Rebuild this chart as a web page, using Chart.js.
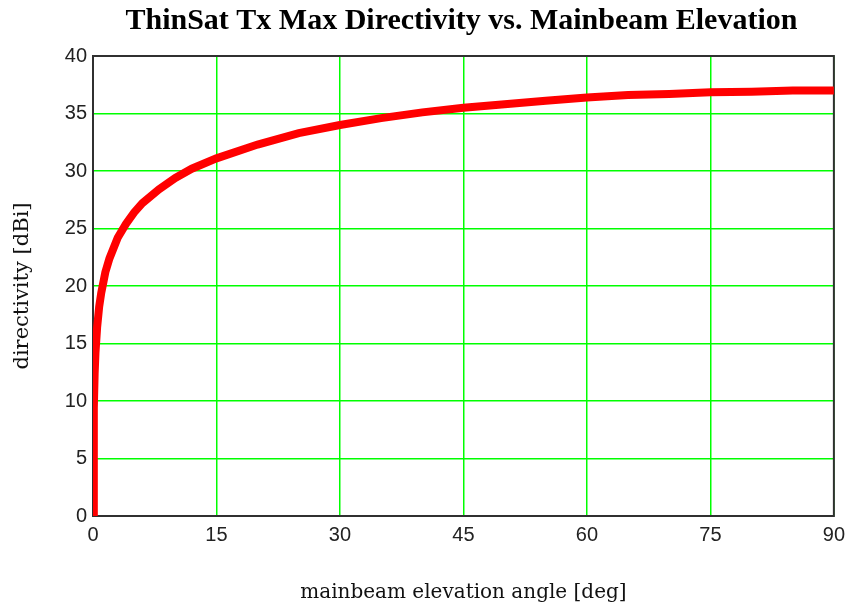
<!DOCTYPE html>
<html>
<head>
<meta charset="utf-8">
<title>ThinSat Tx Max Directivity</title>
<script src="https://cdn.jsdelivr.net/npm/chart.js@4.4.1/dist/chart.umd.min.js"></script>
<style>
  html, body { margin: 0; padding: 0; background: #fff; }
  #wrap { width: 852px; height: 607px; }
</style>
</head>
<body>
<div id="wrap"><canvas id="chart"></canvas></div>
<script>
// mainbeam elevation angle [deg]
const elevation = [0, 0.1, 0.2, 0.3, 0.5, 0.75, 1, 1.5, 2, 3, 4, 5, 6, 8, 10, 12, 15,
  20, 25, 30, 35, 40, 45, 50, 55, 60, 65, 70, 75, 80, 85, 90];
// max directivity [dBi]
const directivity = [0, 9.4, 12.4, 14.2, 16.4, 18.2, 19.4, 21.2, 22.4, 24.2, 25.4, 26.4, 27.2, 28.4, 29.4, 30.2, 31.1,
  32.3, 33.3, 34.0, 34.6, 35.1, 35.5, 35.8, 36.1, 36.4, 36.6, 36.7, 36.85, 36.9, 37.0, 37.0];

const xTicks = [0, 15, 30, 45, 60, 75, 90];
const yTicks = [0, 5, 10, 15, 20, 25, 30, 35, 40];

const chartTitle = 'ThinSat Tx Max Directivity vs. Mainbeam Elevation';
const labelFont = '"DejaVu Serif", "Liberation Serif", serif';
const tickFont = '"Liberation Sans Narrow", "Liberation Sans", sans-serif';

const points = elevation.map((x, i) => ({ x, y: directivity[i] }));

// frame around the plot area (under the curve) and the title centred over it
const framePlugin = {
  id: 'frame',
  beforeDatasetsDraw(chart) {
    const { ctx, chartArea: a } = chart;
    ctx.save();
    ctx.strokeStyle = '#303030';
    ctx.lineWidth = 2;
    ctx.strokeRect(a.left, a.top, a.right - a.left, a.bottom - a.top);
    ctx.restore();
  },
  afterDraw(chart) {
    const { ctx, chartArea: a } = chart;
    ctx.save();
    ctx.fillStyle = '#000';
    ctx.font = 'bold 30px "Liberation Serif", "Times New Roman", serif';
    ctx.textAlign = 'center';
    ctx.textBaseline = 'middle';
    ctx.fillText(chartTitle, (a.left + a.right) / 2 - 2, 21);
    ctx.restore();
  }
};

new Chart(document.getElementById('chart'), {
  type: 'line',
  data: {
    datasets: [{
      data: points,
      borderColor: '#ff0000',
      borderWidth: 8,
      pointRadius: 0,
      tension: 0,
      fill: false
    }]
  },
  options: {
    responsive: true,
    maintainAspectRatio: false,
    animation: false,
    layout: { padding: { left: 0, right: 16, top: 56, bottom: 0 } },
    plugins: {
      legend: { display: false },
      tooltip: { enabled: false },
      title: { display: false }
    },
    scales: {
      x: {
        type: 'linear',
        min: 0,
        max: 90,
        afterBuildTicks: (axis) => { axis.ticks = xTicks.map(v => ({ value: v })); },
        afterFit: (axis) => { axis.height = 91; },
        grid: { color: '#00ff00', lineWidth: 1.5, drawTicks: false },
        border: { display: false },
        ticks: {
          padding: 7,
          color: '#222',
          maxRotation: 0,
          font: { family: tickFont, size: 20 }
        },
        title: {
          display: true,
          text: 'mainbeam elevation angle [deg]',
          color: '#111',
          font: { family: labelFont, size: 20 },
          padding: { top: 0, bottom: 2 }
        }
      },
      y: {
        type: 'linear',
        min: 0,
        max: 40,
        afterBuildTicks: (axis) => { axis.ticks = yTicks.map(v => ({ value: v })); },
        afterFit: (axis) => { axis.width = 93; },
        grid: { color: '#00ff00', lineWidth: 1.5, drawTicks: false },
        border: { display: false },
        ticks: {
          padding: 6,
          color: '#222',
          font: { family: tickFont, size: 20 }
        },
        title: {
          display: true,
          text: 'directivity [dBi]',
          color: '#111',
          font: { family: labelFont, size: 21 },
          padding: { top: 10, bottom: 0 }
        }
      }
    }
  },
  plugins: [framePlugin]
});
</script>
</body>
</html>
